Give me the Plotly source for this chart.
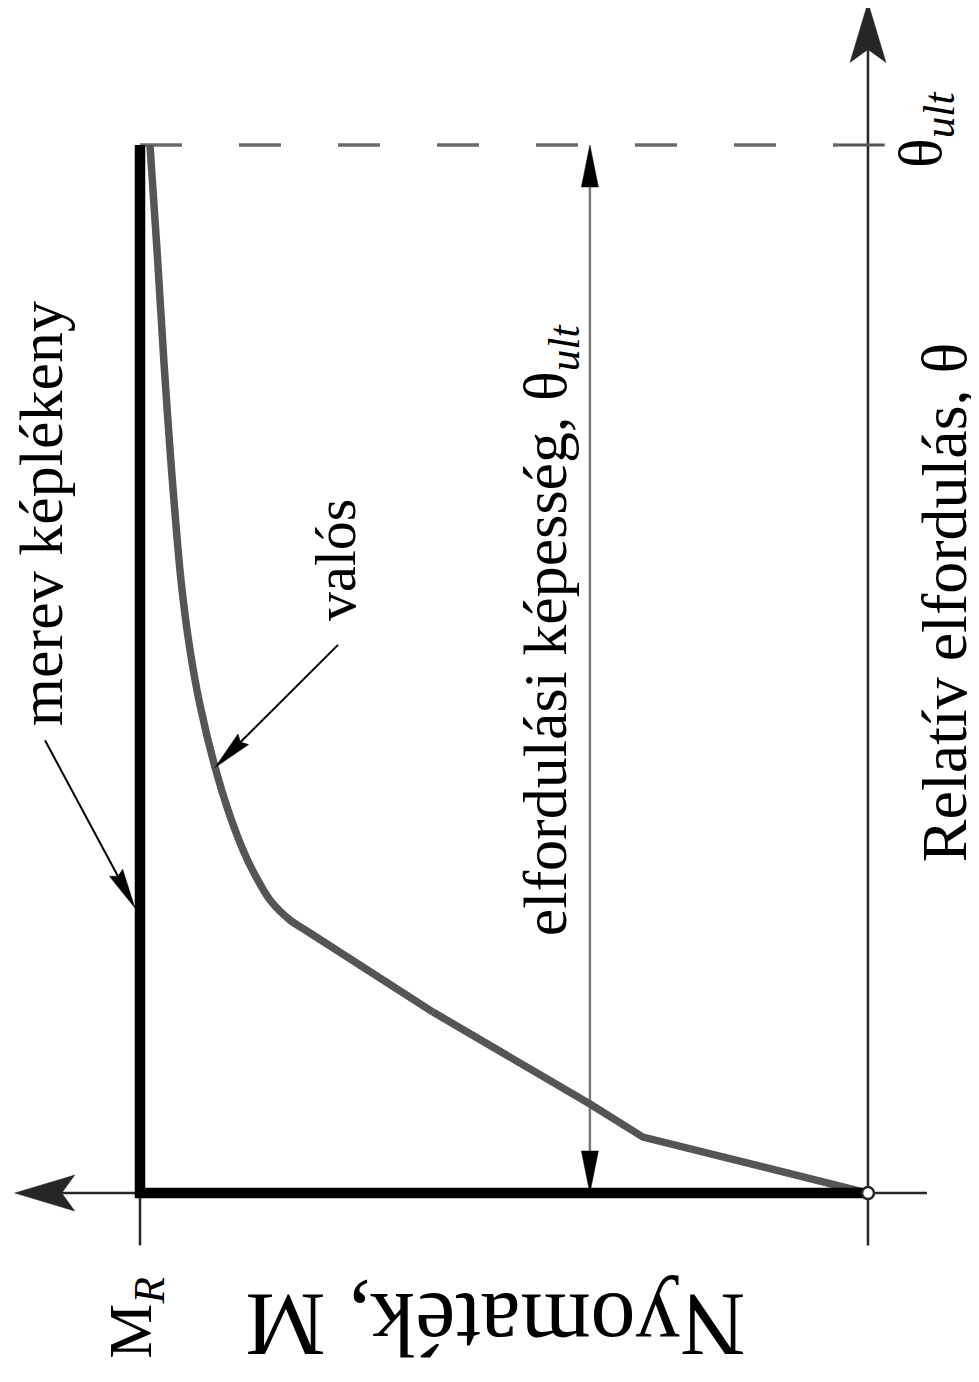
import numpy as np
import plotly.graph_objects as go

# ---------------- data (M in units of M_R, theta in units of theta_ult) -------------
M_R = 1.0
theta_ult = 1.0

# rigid-plastic ("merev képlékeny") model
rigid_M = [0.0, 1.0, 1.0]
rigid_theta = [0.0, 0.0, 1.0]

# real ("valós") moment-rotation curve, from the origin to theta_ult
real_M = [0.0, 0.2308, 0.3091, 0.3819, 0.5975, 0.7665, 0.7940, 0.8214, 0.8420,
          0.8585, 0.8791, 0.8970, 0.9176, 0.9313, 0.9437, 0.9574, 0.9670, 0.9766, 0.9863]
real_theta = [0.0, 0.0401, 0.0534, 0.0849, 0.1727, 0.2481, 0.2605, 0.2796, 0.3034,
              0.3273, 0.3655, 0.4065, 0.4656, 0.5181, 0.5849, 0.6966, 0.7920, 0.8998, 1.0]
n_linear = 5   # first points form the polygonal (elastic/cracked) branch

# dimension line for rotation capacity
dim_M = 0.382

# axis extents
M_axis = [-0.081, 1.172]
theta_axis = [-0.050, 1.136]

# ---------------- layout geometry ----------------
W, H = 971, 1374                 # page body has an 8px margin
M_range = [1.1813, -0.1525]      # reversed: M grows to the left
T_range = [-0.1803, 1.1307]
pxM = W / (M_range[0] - M_range[1])
pxT = H / (T_range[1] - T_range[0])

FONT = "Liberation Serif"
AX = "#262626"

fig = go.Figure()
shapes = []


def head(xm, yt, ux, uy, L, Wd, notch=0.0, color="black"):
    n = np.hypot(ux, uy)
    ux, uy = ux / n, uy / n
    nx, ny = -uy, ux
    pts = [(0, 0),
           (-L * ux + Wd / 2 * nx, -L * uy + Wd / 2 * ny),
           (-(L - notch) * ux, -(L - notch) * uy),
           (-L * ux - Wd / 2 * nx, -L * uy - Wd / 2 * ny)]
    path = "M" + " L".join(f"{x:.2f},{y:.2f}" for x, y in pts) + " Z"
    return dict(type="path", xref="x", yref="y", xsizemode="pixel", ysizemode="pixel",
                xanchor=xm, yanchor=yt, path=path, fillcolor=color,
                line=dict(color=color, width=0.5), layer="above")


def line(xs, ys, color, width, dash=None, shape="linear"):
    fig.add_trace(go.Scatter(x=xs, y=ys, mode="lines", hoverinfo="skip",
                             line=dict(color=color, width=width, dash=dash,
                                       shape=shape, smoothing=0.8 if shape == "spline" else None)))


# axes
AL, AW, AN = 60, 36, 13
line([M_axis[0], M_axis[1] - (AL - AN) / pxM], [0, 0], AX, 2.5)
shapes.append(head(M_axis[1], 0, -1, 0, AL, AW, AN, AX))
line([0, 0], [theta_axis[0], theta_axis[1] - (AL - AN) / pxT], AX, 2.5)
shapes.append(head(0, theta_axis[1], 0, 1, AL, AW, AN, AX))

# ticks
line([M_R, M_R], [0, -0.050], AX, 2.5)
line([0.041, -0.023], [theta_ult, theta_ult], "#555555", 3)

# dashed theta_ult line
line([M_R, 0.041], [theta_ult, theta_ult], "#6a6a6a", 3.5, dash="42px,57px")

# dimension line with two arrowheads
DL, DW = 42, 17
line([dim_M, dim_M], [DL / pxT, theta_ult - DL / pxT], "#7a7a7a", 2.5)
shapes.append(head(dim_M, theta_ult, 0, 1, DL, DW, 0, "black"))
shapes.append(head(dim_M, 0, 0, -1, DL, DW, 0, "black"))

# curves
line(real_M[:n_linear], real_theta[:n_linear], "#555555", 7.5)
line(real_M[n_linear - 1:], real_theta[n_linear - 1:], "#555555", 7.5, shape="spline")
line(rigid_M, rigid_theta, "black", 10.5)

# origin marker
fig.add_trace(go.Scatter(x=[0], y=[0], mode="markers", hoverinfo="skip",
                         marker=dict(symbol="circle", size=12, color="white",
                                     line=dict(color=AX, width=2.5))))


# leader arrows
def leader(m0, t0, m1, t1):
    ux = -(m1 - m0) * pxM
    uy = (t1 - t0) * pxT
    n = np.hypot(ux, uy)
    LL = 40
    mb = m1 + (ux / n) * (LL - 6) / pxM
    tb = t1 - (uy / n) * (LL - 6) / pxT
    line([m0, mb], [t0, tb], "black", 2)
    shapes.append(head(m1, t1, ux, uy, LL, 15, 4, "black"))


leader(1.1305, 0.432, 1.0069, 0.272)
leader(0.728, 0.523, 0.897, 0.406)


# texts
def txt(s, m, t, ang=-90, size=62):
    fig.add_annotation(x=m, y=t, xref="x", yref="y", text=s, showarrow=False,
                       textangle=ang, xanchor="center", yanchor="middle",
                       font=dict(family=FONT, size=size, color="black"))


txt("merev képlékeny", 1.1355, 0.648)
txt("valós", 0.732, 0.604, size=58)
txt("elfordulási képesség, θ<sub><i>ult</i></sub>", 0.438, 0.537)
txt("Relatív elfordulás, θ", -0.106, 0.563, size=64)
txt("θ<sub><i>ult</i></sub>", -0.078, 1.014)
txt("M<sub><i>R</i></sub>", 1.007, -0.119)
txt("Nyomaték, M", 0.512, -0.126, ang=180, size=90)

fig.update_layout(
    width=W, height=H, margin=dict(l=0, r=0, t=0, b=0),
    paper_bgcolor="white", plot_bgcolor="white", showlegend=False,
    xaxis=dict(range=M_range, visible=False, showgrid=False, zeroline=False),
    yaxis=dict(range=T_range, visible=False, showgrid=False, zeroline=False),
    shapes=shapes,
)
fig.write_html("out.html")
